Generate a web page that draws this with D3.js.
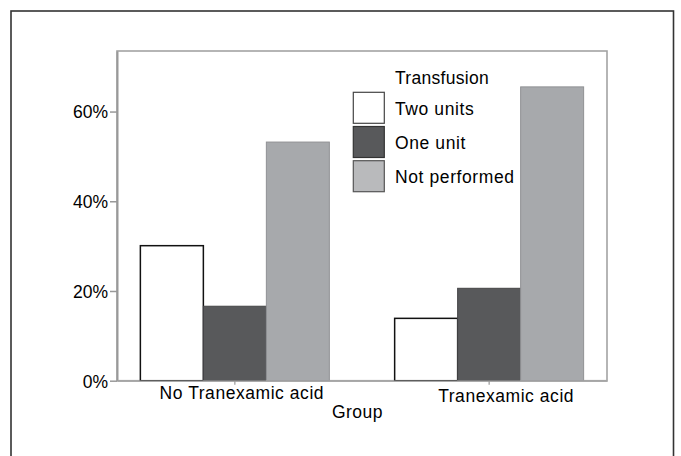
<!DOCTYPE html>
<html>
<head>
<meta charset="utf-8">
<script src="https://cdn.jsdelivr.net/npm/d3@7"></script>
<style>
  html, body { margin: 0; padding: 0; background: #fff; }
  svg { display: block; }
  text { font-family: "Liberation Sans", Arial, Helvetica, sans-serif; fill: #000; }
</style>
</head>
<body>
<svg id="chart" width="681" height="456"></svg>
<script>
// ---- data ----
const groups = ["No Tranexamic acid", "Tranexamic acid"];
const seriesNames = ["Two units", "One unit", "Not performed"];
const twoUnits = [30.1, 13.9];
const oneUnit = [16.6, 20.6];
const notPerformed = [53.2, 65.5];
const yTicks = [0, 20, 40, 60];
const yTickLabels = ["0%", "20%", "40%", "60%"];
const legendTitle = "Transfusion";
const xAxisTitle = "Group";

const seriesValues = [twoUnits, oneUnit, notPerformed];
const fills = ["#ffffff", "#58595b", "#a7a9ac"];
const strokes = ["#111111", "#444446", "#909194"];
const legendFills = ["#ffffff", "#58595b", "#b9babc"];
const legendStrokes = ["#444", "#333", "#555"];

const svg = d3.select("#chart");

// outer frame
svg.append("rect")
  .attr("x", 11).attr("y", 11)
  .attr("width", 662.5).attr("height", 470)
  .attr("fill", "none").attr("stroke", "#333").attr("stroke-width", 1.6);

const plot = { left: 117, right: 607, top: 51, bottom: 380.7 };

const x0 = d3.scaleBand().domain(groups)
  .range([plot.left, plot.right])
  .paddingInner(0.2568).paddingOuter(0.0919);
const x1 = d3.scaleBand().domain(seriesNames).range([0, x0.bandwidth()]).padding(0);
const y = d3.scaleLinear().domain([0, 73.5]).range([plot.bottom, plot.top]);

// plot frame
svg.append("rect")
  .attr("x", plot.left).attr("y", plot.top)
  .attr("width", plot.right - plot.left).attr("height", plot.bottom - plot.top)
  .attr("fill", "none").attr("stroke", "#a3a3a3").attr("stroke-width", 1.6);

// bars
const rows = [];
groups.forEach((g, gi) => {
  seriesNames.forEach((s, si) => {
    rows.push({ g, s, si, v: seriesValues[si][gi] });
  });
});

svg.append("g").selectAll("rect").data(rows).join("rect")
  .attr("x", d => x0(d.g) + x1(d.s))
  .attr("y", d => y(d.v))
  .attr("width", x1.bandwidth())
  .attr("height", d => y(0) - y(d.v))
  .attr("fill", d => fills[d.si])
  .attr("stroke", d => strokes[d.si])
  .attr("stroke-width", d => d.si === 0 ? 1.5 : 1);

// y axis
const yAxis = d3.axisLeft(y).tickValues(yTicks)
  .tickFormat((d, i) => yTickLabels[i])
  .tickSize(7).tickSizeOuter(0).tickPadding(2);
const ya = svg.append("g").attr("transform", `translate(${plot.left},0)`).call(yAxis);
ya.select(".domain").attr("stroke", "#999").attr("stroke-width", 2);
ya.selectAll(".tick line").attr("stroke", "#999").attr("stroke-width", 1.5);
ya.selectAll(".tick text")
  .attr("font-size", "17.5px")
  .attr("font-family", "Liberation Sans, Arial, sans-serif")
  .attr("dy", "0.36em")
  .attr("fill", "#000");

// x axis
const xAxis = d3.axisBottom(x0).tickSize(4).tickSizeOuter(0).tickFormat("");
const xa = svg.append("g").attr("transform", `translate(0,${plot.bottom})`).call(xAxis);
xa.select(".domain").attr("stroke", "#aaa").attr("stroke-width", 1.6);
xa.selectAll(".tick line").attr("stroke", "#999").attr("stroke-width", 1.2);

const labelDx = [7, 17];
const labelY = [398.5, 401.8];
svg.append("g").selectAll("text").data(groups).join("text")
  .attr("x", (d, i) => x0(d) + x0.bandwidth() / 2 + labelDx[i])
  .attr("y", (d, i) => labelY[i])
  .attr("text-anchor", "middle")
  .attr("font-size", "17.5px")
  .attr("letter-spacing", "0.55px")
  .text(d => d);

svg.append("text")
  .attr("x", 357.5).attr("y", 418.3)
  .attr("text-anchor", "middle")
  .attr("font-size", "17.5px")
  .attr("letter-spacing", "0.5px")
  .text(xAxisTitle);

// legend
const lg = svg.append("g");
lg.append("text").attr("x", 395).attr("y", 84)
  .attr("font-size", "17.5px").attr("letter-spacing", "0.3px").text(legendTitle);
const li = lg.selectAll("g.item").data(seriesNames).join("g")
  .attr("class", "item")
  .attr("transform", (d, i) => `translate(353.3,${92.3 + i * 34.2})`);
li.append("rect")
  .attr("width", 31).attr("height", 31)
  .attr("fill", (d, i) => legendFills[i])
  .attr("stroke", (d, i) => legendStrokes[i])
  .attr("stroke-width", 1.2);
li.append("text")
  .attr("x", 41.7).attr("y", 22.7)
  .attr("font-size", "17.5px")
  .attr("letter-spacing", "0.6px")
  .text(d => d);
</script>
</body>
</html>
